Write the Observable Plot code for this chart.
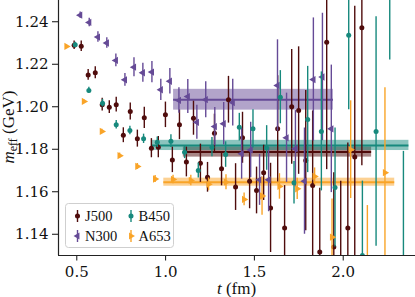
<!DOCTYPE html>
<html><head><meta charset="utf-8">
<script src="https://cdn.jsdelivr.net/npm/d3@7"></script>
<script src="https://cdn.jsdelivr.net/npm/@observablehq/plot@0.6"></script>
<style>
body{margin:0;background:#fff;}
#wrap{position:relative;width:415px;height:297px;}
</style></head><body><div id="wrap"></div>
<script>
const ensembles = ["J500", "N300", "B450", "A653"];
const colors = ["#4f0c0c", "#654a96", "#17897d", "#f9a428"];
const symbols = ["circle", "triangle", "circle", "triangle"];
const rotations = [0, -90, 0, 90];

const J500_t = [0.485,0.525,0.564,0.604,0.643,0.683,0.722,0.762,0.801,0.841,0.880,0.920,0.959,0.999,1.038,1.078,1.117,1.157,1.196,1.236,1.275,1.315,1.354,1.394,1.433,1.473,1.512,1.552,1.591,1.631,1.670,1.710,1.749,1.789,1.828,1.868,1.907,1.947,1.986,2.026,2.065,2.105];
const J500_m = [1.2290,1.2285,1.2150,1.2160,1.2010,1.1998,1.2010,1.1866,1.1978,1.1850,1.1948,1.1805,1.1810,1.1962,1.1750,1.1915,1.1740,1.1946,1.1734,1.1668,1.1875,1.1708,1.2033,1.1622,1.1854,1.1650,1.1606,1.1689,1.1524,1.1896,1.1429,1.2000,1.1982,1.1747,1.1630,1.1316,1.2304,1.1340,1.1250,1.1429,1.1763,1.2372];
const J500_e = [0.002,0.0025,0.0025,0.0028,0.003,0.003,0.0035,0.0035,0.004,0.004,0.005,0.0045,0.005,0.006,0.006,0.007,0.007,0.008,0.009,0.007,0.009,0.008,0.011,0.011,0.012,0.013,0.011,0.013,0.021,0.025,0.02,0.027,0.03,0.033,0.035,0.03,0.06,0.035,0.04,0.04,0.071,0.065];

const N300_t = [0.519,0.570,0.619,0.669,0.720,0.771,0.822,0.872,0.923,0.973,1.024,1.075,1.125,1.176,1.226,1.277,1.327,1.378,1.428,1.479,1.529,1.580,1.630,1.681,1.731,1.782,1.832,1.883,1.933];
const N300_m = [1.2431,1.2397,1.2328,1.2300,1.2218,1.2127,1.2186,1.2160,1.2163,1.2080,1.2120,1.2030,1.2048,1.1927,1.2033,1.1907,1.1920,1.2020,1.1779,1.1797,1.1656,1.1656,1.2100,1.1854,1.1802,1.1650,1.2128,1.2140,1.1896];
const N300_e = [0.0015,0.002,0.0025,0.0025,0.003,0.003,0.0045,0.0045,0.005,0.005,0.006,0.006,0.008,0.008,0.0085,0.009,0.010,0.011,0.012,0.013,0.012,0.015,0.0215,0.021,0.018,0.025,0.029,0.03,0.03];

const B450_t = [0.491,0.568,0.645,0.722,0.799,0.876,0.953,1.030,1.107,1.184,1.261,1.338,1.415,1.492,1.569,1.646,1.723,1.800,1.877,1.954,2.031,2.108,2.185,2.262,2.339];
const B450_m = [1.2292,1.2077,1.2017,1.1915,1.1888,1.1849,1.1833,1.1838,1.1786,1.1700,1.1810,1.1775,1.1904,1.1896,1.1806,1.2045,1.1642,1.1940,1.1884,1.1620,1.2336,1.1300,1.1884,1.2620,1.1200];
const B450_e = [0.0012,0.0015,0.0018,0.002,0.002,0.0022,0.0025,0.003,0.003,0.0035,0.0045,0.006,0.0065,0.009,0.0105,0.0125,0.01,0.025,0.028,0.028,0.035,0.035,0.054,0.04,0.059];

const A653_t = [0.442,0.540,0.641,0.741,0.841,0.941,1.042,1.142,1.242,1.340,1.442,1.543,1.641,1.741,1.839,1.937,2.042,2.136,2.235];
const A653_m = [1.2284,1.2025,1.1884,1.1770,1.1719,1.1660,1.1658,1.1653,1.1635,1.1645,1.1564,1.1580,1.1625,1.1614,1.1672,1.1386,1.1798,1.1200,1.1690];
const A653_e = [0.0006,0.0008,0.001,0.0012,0.0014,0.0016,0.002,0.0025,0.003,0.0035,0.003,0.009,0.006,0.005,0.004,0.018,0.023,0.0335,0.04];

// fit bands
const fit_t0 = [1.10, 1.045, 0.92, 0.99];
const fit_t1 = [2.16, 1.945, 2.37, 2.29];
const fit_m = [1.1787, 1.2033, 1.1818, 1.1645];
const fit_e = [0.0024, 0.0049, 0.0024, 0.0019];

const xTicks = [0.5, 1.0, 1.5, 2.0];
const yTicks = [1.14, 1.16, 1.18, 1.20, 1.22, 1.24];

const raw = {J500:[J500_t,J500_m,J500_e], N300:[N300_t,N300_m,N300_e], B450:[B450_t,B450_m,B450_e], A653:[A653_t,A653_m,A653_e]};
const points = [];
ensembles.forEach((ens) => {
  const [T, M, E] = raw[ens];
  T.forEach((t, i) => points.push({ens, t, m: M[i], lo: M[i] - E[i], hi: M[i] + E[i]}));
});
const fits = ensembles.map((ens, i) => ({ens, t0: fit_t0[i], t1: fit_t1[i], m: fit_m[i], lo: fit_m[i] - fit_e[i], hi: fit_m[i] + fit_e[i]}));

const colorScale = {domain: ensembles, range: colors};
const FONT = "'DejaVu Serif', serif";

const marks = [];
ensembles.forEach((ens, i) => {
  const f = fits.filter(d => d.ens === ens);
  marks.push(Plot.rect(f, {x1: "t0", x2: "t1", y1: "lo", y2: "hi", fill: "ens", fillOpacity: 0.5, clip: true}));
  marks.push(Plot.ruleY(f, {x1: "t0", x2: "t1", y: "m", stroke: "ens", strokeWidth: 2, clip: true}));
});
ensembles.forEach((ens, i) => {
  const p = points.filter(d => d.ens === ens);
  marks.push(Plot.ruleX(p, {x: "t", y1: "lo", y2: "hi", stroke: "ens", strokeWidth: 1.4, clip: true}));
  marks.push(Plot.dot(p, {x: "t", y: "m", fill: "ens", stroke: "none", symbol: () => symbols[i], r: symbols[i] === "circle" ? 2.5 : 2.7, rotate: rotations[i], clip: true}));
});
marks.push(Plot.axisX({ticks: xTicks, tickFormat: d3.format(".1f"), tickSize: 5.5, tickPadding: 5, label: null, fontSize: 15, fontFamily: FONT}));
marks.push(Plot.axisY({ticks: yTicks, tickFormat: d3.format(".2f"), tickSize: 6, tickPadding: 4, label: null, fontSize: 15, fontFamily: FONT}));
marks.push(Plot.ruleX([0.397], {stroke: "#222", strokeWidth: 1.2}));
marks.push(Plot.ruleY([1.13], {stroke: "#222", strokeWidth: 1.2}));

const chart = Plot.plot({
  width: 415, height: 297,
  marginLeft: 58, marginRight: 0, marginTop: 0, marginBottom: 42,
  x: {domain: [0.397, 2.407]},
  y: {domain: [1.13, 1.25]},
  color: colorScale,
  style: {background: "#fff", color: "#111", fontFamily: FONT, fontSize: "15px"},
  marks
});
document.getElementById("wrap").appendChild(chart);

const svg = d3.select(chart);
svg.selectAll("text").attr("font-family", FONT).attr("font-size", 15)
  .style("font-family", FONT).style("font-size", "15px");

// axis labels and legend
const LFONT = "'Liberation Serif', serif";
function txt(sel) {
  return sel.style("font-family", LFONT).attr("fill", "#111");
}
const yl = txt(svg.append("text")).attr("transform", "translate(13.5,127) rotate(-90)")
  .attr("text-anchor", "middle").style("font-size", "17px");
yl.append("tspan").attr("font-style", "italic").text("m");
yl.append("tspan").style("font-size", "12px").attr("dy", 3).text("eff");
yl.append("tspan").attr("dy", -3).text(" (GeV)");
const xl = txt(svg.append("text")).attr("x", 236.5).attr("y", 294).attr("text-anchor", "middle")
  .style("font-size", "17px");
xl.append("tspan").attr("font-style", "italic").text("t");
xl.append("tspan").text(" (fm)");

const lg = svg.append("g");
lg.append("rect").attr("x", 65.5).attr("y", 203.5).attr("width", 108).attr("height", 44).attr("rx", 3)
  .attr("fill", "rgba(255,255,255,0.85)").attr("stroke", "#cfcfcf");
const legPos = [[77.5, 216], [77.5, 236], [131, 216], [131, 236]];
ensembles.forEach((ens, i) => {
  const [lx, ly] = legPos[i];
  lg.append("line").attr("x1", lx).attr("x2", lx).attr("y1", ly - 6).attr("y2", ly + 6).attr("stroke", colors[i]).attr("stroke-width", 1.4);
  const sym = d3.symbol(symbols[i] === "circle" ? d3.symbolCircle : d3.symbolTriangle, 20)();
  lg.append("path").attr("d", sym).attr("fill", colors[i]).attr("transform", `translate(${lx},${ly}) rotate(${rotations[i]})`);
  txt(lg.append("text")).attr("x", lx + 7.5).attr("y", ly + 5).attr("text-anchor", "start").style("font-size", "14.5px").text(ens);
});
</script></body></html>
